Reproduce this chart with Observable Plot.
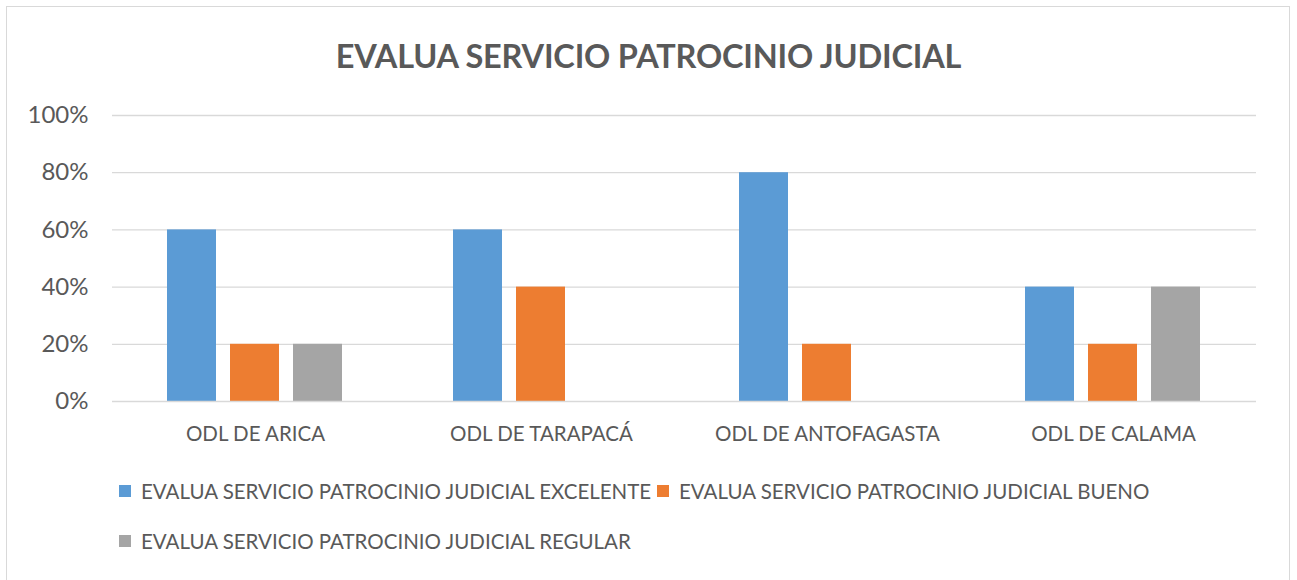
<!DOCTYPE html>
<html>
<head>
<meta charset="utf-8">
<script src="https://cdn.jsdelivr.net/npm/d3@7"></script>
<script src="https://cdn.jsdelivr.net/npm/@observablehq/plot@0.6"></script>
<style>
  html, body { margin: 0; padding: 0; background: #fff; }
  #wrap { position: relative; width: 1297px; height: 580px; overflow: hidden; font-family: Lato, "Open Sans", sans-serif; color: #595959; }
  #frame { position: absolute; left: 6px; top: 6px; width: 1284px; height: 600px; border: 1px solid #d9d9d9; box-sizing: border-box; }
  #title { position: absolute; left: 0; width: 1297px; top: 36px; text-align: center; font-size: 32.5px; font-weight: bold; color: #595959; letter-spacing: -0.2px; }
  #chart { position: absolute; left: 0; top: 0; }
  .leg { position: absolute; display: flex; align-items: center; font-size: 20.5px; color: #595959; white-space: nowrap; letter-spacing: 0px; }
  .sw { width: 12px; height: 12px; margin-right: 10px; }
</style>
</head>
<body>
<div id="wrap">
  <div id="frame"></div>
  <div id="title">EVALUA SERVICIO PATROCINIO JUDICIAL</div>
  <div id="chart"></div>
</div>
<script>
const categories = ["ODL DE ARICA", "ODL DE TARAPACÁ", "ODL DE ANTOFAGASTA", "ODL DE CALAMA"];
const series = [
  "EVALUA SERVICIO PATROCINIO JUDICIAL EXCELENTE",
  "EVALUA SERVICIO PATROCINIO JUDICIAL BUENO",
  "EVALUA SERVICIO PATROCINIO JUDICIAL REGULAR"
];
const excelente = [0.60, 0.60, 0.80, 0.40];
const bueno     = [0.20, 0.40, 0.20, 0.20];
const regular   = [0.20, 0.00, 0.00, 0.40];
const colors = ["#5b9bd5", "#ed7d31", "#a5a5a5"];
const yTicks = [0, 0.2, 0.4, 0.6, 0.8, 1.0];

const valuesBySeries = [excelente, bueno, regular];
const data = [];
categories.forEach((c, i) => {
  series.forEach((s, j) => data.push({category: c, series: s, value: valuesBySeries[j][i]}));
});

const plot = Plot.plot({
  width: 1297,
  height: 460,
  marginTop: 115,
  marginBottom: 59,
  marginLeft: 110,
  marginRight: 40,
  style: {fontFamily: "Lato, 'Open Sans', sans-serif", color: "#595959", background: "transparent"},
  fx: {domain: categories, padding: 0, label: null, tickSize: 0, tickPadding: 25, axis: "bottom"},
  x: {domain: series, paddingInner: 0.21875, paddingOuter: 0.85, axis: null},
  y: {domain: [0, 1], ticks: yTicks, tickFormat: d => Math.round(d * 100) + "%", label: null, grid: false},
  color: {domain: series, range: colors},
  marks: [
    Plot.ruleY(yTicks.filter(d => d > 0), {stroke: "#d9d9d9", strokeWidth: 1.3, strokeOpacity: 1}),
    Plot.axisY({ticks: yTicks, tickFormat: d => Math.round(d * 100) + "%", tickSize: 0, tickPadding: 24, fontSize: 24, label: null, fill: "#595959"}),
    Plot.barY(data, {fx: "category", x: "series", y: "value", fill: "series"}),
    Plot.ruleY([0], {stroke: "#d9d9d9", strokeWidth: 1.6})
  ]
});
plot.querySelectorAll("g[aria-label='fx-axis tick label'] text, g[aria-label='fx-axis tick label']").forEach(el => {
  el.setAttribute("font-size", "20.5");
});
document.getElementById("chart").appendChild(plot);

const wrap = document.getElementById("wrap");
const legPos = [[119, 491], [657, 491], [119, 541]];
series.forEach((s, j) => {
  const d = document.createElement("div");
  d.className = "leg";
  d.style.left = legPos[j][0] + "px";
  d.style.top = (legPos[j][1] - 12) + "px";
  d.style.height = "24px";
  const sw = document.createElement("div");
  sw.className = "sw";
  sw.style.background = colors[j];
  const t = document.createElement("span");
  t.textContent = s;
  d.appendChild(sw); d.appendChild(t);
  wrap.appendChild(d);
});
</script>
</body>
</html>
